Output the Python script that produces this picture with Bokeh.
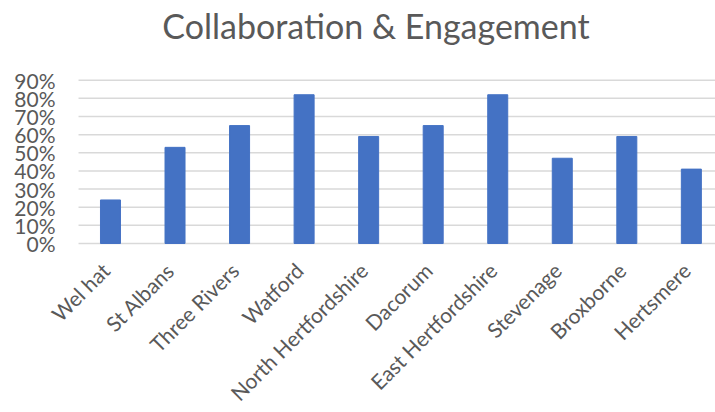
import math
from bokeh.plotting import figure
from bokeh.models import Range1d, Label, ColumnDataSource
from bokeh.embed import file_html
from bokeh.resources import INLINE

categories = ["Wel hat", "St Albans", "Three Rivers", "Watford", "North Hertfordshire",
              "Dacorum", "East Hertfordshire", "Stevenage", "Broxborne", "Hertsmere"]
values = [0.24, 0.53, 0.65, 0.82, 0.59, 0.65, 0.82, 0.47, 0.59, 0.41]
y_ticks = [0.0, 0.1, 0.2, 0.3, 0.4, 0.5, 0.6, 0.7, 0.8, 0.9]
y_tick_labels = ["0%", "10%", "20%", "30%", "40%", "50%", "60%", "70%", "80%", "90%"]
title_text = "Collaboration & Engagement"

TEXT = "#595959"
GRID = "#d9d9d9"
FONT = "Lato"

# plot-area limits in data units (category slots 0..9)
AREA_LEFT, AREA_RIGHT = -0.495, 9.374

idx = list(range(len(categories)))
src = ColumnDataSource(dict(x=idx, top=values, base=[0] * len(idx), name=categories))
grid_src = ColumnDataSource(dict(y=y_ticks, x0=[AREA_LEFT] * len(y_ticks),
                                 x1=[AREA_RIGHT] * len(y_ticks), label=y_tick_labels))

# frame covers the whole canvas: the title, the value labels and the rotated
# category names are all drawn inside it through the data scales
p = figure(width=715, height=412, output_backend="svg", toolbar_location=None,
           x_range=Range1d(-1.704, AREA_RIGHT), y_range=Range1d(-0.9316, 1.3395),
           min_border_left=0, min_border_right=0, min_border_top=0, min_border_bottom=0)
p.title.visible = False
p.outline_line_color = None
p.background_fill_color = "white"
p.border_fill_color = "white"
p.xaxis.visible = False
p.yaxis.visible = False
p.xgrid.visible = False
p.ygrid.visible = False

# horizontal gridlines
p.segment(x0="x0", y0="y", x1="x1", y1="y", source=grid_src, line_color=GRID, line_width=1.5)

# bars
p.vbar(x="x", top="top", bottom="base", width=0.31, source=src,
       fill_color="#4472C4", line_color="#4472C4")

# value-axis labels
p.text(x="x0", y="y", text="label", source=grid_src, text_align="right",
       text_baseline="middle", x_offset=-23,
       text_font={"value": FONT}, text_font_size={"value": "21px"}, text_color=TEXT)

# category names, rotated 45 degrees, ending just below each bar
p.text(x="x", y="base", text="name", source=src, angle=math.pi / 4,
       text_align="right", text_baseline="alphabetic", x_offset=-5, y_offset=23,
       text_font={"value": FONT}, text_font_size={"value": "21px"}, text_color=TEXT)

p.add_layout(Label(x=375.5, y=387, x_units="screen", y_units="screen", text=title_text,
                   text_font=FONT, text_font_size="34px", text_color=TEXT,
                   text_align="center", text_baseline="alphabetic"))

open("out.html", "w").write(file_html(p, INLINE))
